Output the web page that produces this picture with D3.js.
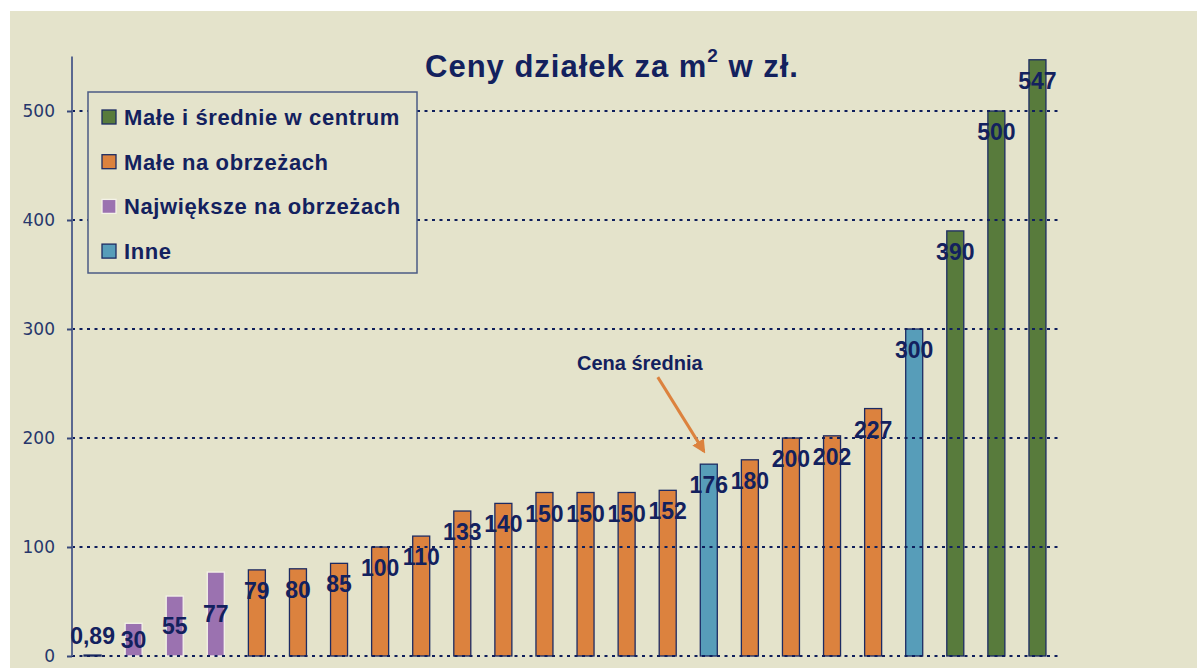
<!DOCTYPE html>
<html>
<head>
<meta charset="utf-8">
<script src="https://cdnjs.cloudflare.com/ajax/libs/d3/7.8.5/d3.min.js"></script>
<style>
    body { margin: 0; background: #ffffff; }
    svg { display: block; }
</style>
</head>
<body>
<script>
//wrap everything in a self-executing anonymous function to move to local scope
(function(){

//bar values, sorted as in the original slide
var values = [0.89, 30, 55, 77, 79, 80, 85, 100, 110, 133, 140, 150, 150, 150, 152, 176, 180, 200, 202, 227, 300, 390, 500, 547];

//series each bar belongs to
var barSeries = ["Inne", "Największe na obrzeżach", "Największe na obrzeżach", "Największe na obrzeżach",
    "Małe na obrzeżach", "Małe na obrzeżach", "Małe na obrzeżach", "Małe na obrzeżach", "Małe na obrzeżach",
    "Małe na obrzeżach", "Małe na obrzeżach", "Małe na obrzeżach", "Małe na obrzeżach", "Małe na obrzeżach",
    "Małe na obrzeżach", "Inne", "Małe na obrzeżach", "Małe na obrzeżach", "Małe na obrzeżach",
    "Małe na obrzeżach", "Inne", "Małe i średnie w centrum", "Małe i średnie w centrum", "Małe i średnie w centrum"];

//legend entries and their colours
var seriesNames = ["Małe i średnie w centrum", "Małe na obrzeżach", "Największe na obrzeżach", "Inne"];
var seriesColors = ["#587b3c", "#dc823e", "#9b72b0", "#579db9"];

//y axis ticks
var yTicks = [0, 100, 200, 300, 400, 500];

//annotation pointing at the average price
var avgLabel = "Cena średnia";
var avgValue = 176;

var width = 1197,
    height = 668;

var navy = "#13215e";

var svg = d3.select("body")
    .append("svg")
    .attr("width", width)
    .attr("height", height);

//beige slide panel
svg.append("rect")
    .attr("x", 10)
    .attr("y", 11)
    .attr("width", width - 10)
    .attr("height", height - 11)
    .attr("fill", "#e4e3cb");

//scales
var x = d3.scaleBand()
    .domain(d3.range(values.length))
    .range([72, 1058])
    .padding(0);

var y = d3.scaleLinear()
    .domain([0, 550])
    .range([656, 56.5]);

var color = d3.scaleOrdinal()
    .domain(seriesNames)
    .range(seriesColors);

var barWidth = 17;

//bars
svg.selectAll(".bar")
    .data(values)
    .enter()
    .append("rect")
    .attr("class", "bar")
    .attr("x", function(d, i){ return x(i) + x.bandwidth() / 2 - barWidth / 2; })
    .attr("y", function(d){ return y(d); })
    .attr("width", barWidth)
    .attr("height", function(d){ return Math.max(1, y(0) - y(d)); })
    .attr("fill", function(d, i){ return color(barSeries[i]); })
    .attr("stroke", function(d, i){
        return barSeries[i] == "Największe na obrzeżach" ? "#f4f2e8" : "#1c2b63";
    })
    .attr("stroke-width", 1.3);

//dotted gridlines (drawn over the bars like in the slide)
svg.append("g")
    .selectAll("line")
    .data(yTicks)
    .enter()
    .append("line")
    .attr("x1", 72)
    .attr("x2", 1058)
    .attr("y1", function(d){ return y(d); })
    .attr("y2", function(d){ return y(d); })
    .attr("stroke", "#0f1f5c")
    .attr("stroke-width", 2)
    .attr("stroke-dasharray", "3,4.5");

//y axis
var yAxis = svg.append("g")
    .attr("transform", "translate(72,0)")
    .call(d3.axisLeft(y).tickValues(yTicks).tickSize(5).tickPadding(12));

yAxis.select(".domain")
    .attr("stroke", "#5a6890")
    .attr("stroke-width", 2)
    .attr("d", "M0," + y(550) + "V" + y(0));

yAxis.selectAll(".tick line")
    .attr("stroke", "#3a4a7a")
    .attr("stroke-width", 2);

yAxis.selectAll(".tick text")
    .attr("fill", "#27376c")
    .style("font-family", "'DejaVu Sans', Verdana, sans-serif")
    .style("font-size", "17px");

//value labels
svg.selectAll(".label")
    .data(values)
    .enter()
    .append("text")
    .attr("class", "label")
    .attr("x", function(d, i){ return x(i) + x.bandwidth() / 2; })
    .attr("y", function(d, i){
        if (y(0) - y(d) < 10) return y(d) - 11;               //too short: above the bar
        if (barSeries[i] == "Największe na obrzeżach") return (y(d) + y(0)) / 2 + 8; //centred
        return y(d) + 29;                                     //inside end
    })
    .attr("text-anchor", "middle")
    .attr("fill", navy)
    .style("font-family", "'Liberation Sans', Arial, sans-serif")
    .style("font-weight", "bold")
    .style("font-size", "23px")
    .text(function(d){ return String(d).replace(".", ","); });

//title
var title = svg.append("text")
    .attr("x", 612)
    .attr("y", 77)
    .attr("text-anchor", "middle")
    .attr("fill", navy)
    .style("font-family", "'Liberation Sans', Arial, sans-serif")
    .style("font-weight", "bold")
    .style("font-size", "31px")
    .style("letter-spacing", "1px");

title.append("tspan").text("Ceny działek za m");
title.append("tspan")
    .attr("dy", -15)
    .style("font-size", "19px")
    .text("2");
title.append("tspan")
    .attr("dy", 15)
    .text(" w zł.");

//legend
var legend = svg.append("g")
    .attr("transform", "translate(88,92)");

legend.append("rect")
    .attr("width", 329)
    .attr("height", 181)
    .attr("fill", "#e4e3cb")
    .attr("stroke", "#4b5b85")
    .attr("stroke-width", 1.5);

var items = legend.selectAll(".item")
    .data(seriesNames)
    .enter()
    .append("g")
    .attr("class", "item")
    .attr("transform", function(d, i){ return "translate(14," + (25 + i * 44.7) + ")"; });

items.append("rect")
    .attr("x", 0)
    .attr("y", -7)
    .attr("width", 14)
    .attr("height", 14)
    .attr("fill", function(d){ return color(d); })
    .attr("stroke", function(d){ return d == "Największe na obrzeżach" ? "#f4f2e8" : "#1c2b63"; })
    .attr("stroke-width", 1.3);

items.append("text")
    .attr("x", 22)
    .attr("y", 8)
    .attr("fill", navy)
    .style("font-family", "'Liberation Sans', Arial, sans-serif")
    .style("font-weight", "bold")
    .style("font-size", "22px")
    .style("letter-spacing", "0.6px")
    .text(function(d){ return d; });

//average price annotation
var avgIndex = values.indexOf(avgValue);
var ax = x(avgIndex) + x.bandwidth() / 2,
    ay = y(avgValue);

svg.append("defs")
    .append("marker")
    .attr("id", "arrow")
    .attr("viewBox", "0 0 10 10")
    .attr("refX", 8)
    .attr("refY", 5)
    .attr("markerWidth", 4.5)
    .attr("markerHeight", 4.5)
    .attr("orient", "auto")
    .append("path")
    .attr("d", "M0,0L10,5L0,10z")
    .attr("fill", "#dc823e");

svg.append("line")
    .attr("x1", ax - 51)
    .attr("y1", ay - 87)
    .attr("x2", ax - 5)
    .attr("y2", ay - 13)
    .attr("stroke", "#dc823e")
    .attr("stroke-width", 3)
    .attr("marker-end", "url(#arrow)");

svg.append("text")
    .attr("x", ax - 69)
    .attr("y", ay - 94)
    .attr("text-anchor", "middle")
    .attr("fill", navy)
    .style("font-family", "'Liberation Sans', Arial, sans-serif")
    .style("font-weight", "bold")
    .style("font-size", "20px")
    .text(avgLabel);

})();
</script>
</body>
</html>
